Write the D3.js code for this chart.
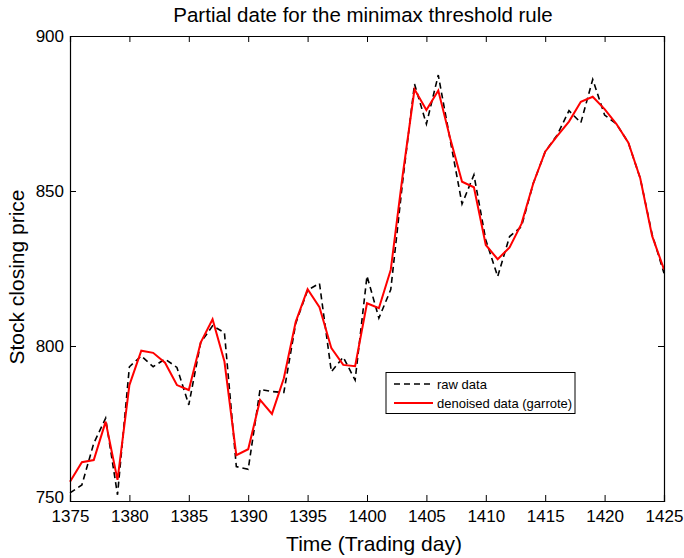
<!DOCTYPE html>
<html><head><meta charset="utf-8">
<script src="https://cdn.jsdelivr.net/npm/d3@7"></script>
<style>body{margin:0;background:#fff}svg{display:block}text{font-family:"Liberation Sans",Arial,sans-serif}</style>
</head><body><svg id="c" width="684" height="558"></svg>
<script>
const days = d3.range(1375, 1426);
const rawData = [752.6,755.2,768.6,776.7,752,793.3,796.8,793.3,795.8,793.1,781,801.1,806.5,804.3,761.1,760.2,786,785.3,785,807.3,818,820.2,791.7,796.4,789,822.6,809,818.2,853,884.5,871.6,887.4,866.5,845.8,855.2,834.2,822.4,835.3,838.5,852.5,862.7,868,875.9,872,886,874.5,871.6,865.6,854.1,836,823.5];
const denoised = [756.2,762.5,763.2,775.6,756.8,787.4,798.5,797.8,794.6,787.4,785.8,801.1,808.6,795,764.8,766.7,782.6,778.1,789.6,807.8,818.3,812.5,799.3,793.9,793.5,813.8,812.2,824.6,855,882.8,876.1,882.4,867,853,851.2,832.6,828,831.8,839.4,852.5,862.7,867.7,872.4,878.8,880.4,876.4,871.6,865.6,854.1,835.5,824.7];
const xTicks = [1375,1380,1385,1390,1395,1400,1405,1410,1415,1420,1425];
const yTicks = [750,800,850,900];
const title = "Partial date for the minimax threshold rule";
const xLabel = "Time (Trading day)";
const yLabel = "Stock closing price";
const legendLabels = ["raw data","denoised data (garrote)"];

const svg = d3.select("#c");
const L=70,R=664,T=36,B=501;
const x = d3.scaleLinear().domain([1375,1425]).range([L,R]);
const y = d3.scaleLinear().domain([750,900]).range([B,T]);

const line = d3.line().x((d,i)=>x(days[i])).y(d=>y(d));
svg.append("path").datum(rawData).attr("d",line).attr("fill","none").attr("stroke","#000").attr("stroke-width",1.6).attr("stroke-dasharray","6,4");
svg.append("path").datum(denoised).attr("d",line).attr("fill","none").attr("stroke","#ff0000").attr("stroke-width",2);

const tl=6;
const gB = svg.append("g").attr("transform",`translate(0,${B})`).call(d3.axisBottom(x).tickValues(xTicks).tickSize(-tl).tickPadding(9).tickFormat(d3.format("d")));
const gT = svg.append("g").attr("transform",`translate(0,${T})`).call(d3.axisTop(x).tickValues(xTicks).tickSize(-tl).tickFormat(""));
const gL = svg.append("g").attr("transform",`translate(${L},0)`).call(d3.axisLeft(y).tickValues(yTicks).tickSize(-tl).tickPadding(6));
const gR = svg.append("g").attr("transform",`translate(${R},0)`).call(d3.axisRight(y).tickValues(yTicks).tickSize(-tl).tickFormat(""));
[gB,gT,gL,gR].forEach(g=>{g.select(".domain").attr("stroke","#000").attr("stroke-width",1.2);g.selectAll(".tick line").attr("stroke","#000");g.selectAll("text").attr("font-size",17).attr("fill","#000").attr("font-family","Liberation Sans, Arial, sans-serif");});
gL.selectAll(".tick text").filter(d=>d===750).attr("dy","0.1em");

svg.append("text").attr("x",363).attr("y",22).attr("text-anchor","middle").attr("font-size",20.5).text(title);
svg.append("text").attr("x",374).attr("y",551).attr("text-anchor","middle").attr("font-size",21).text(xLabel);
svg.append("text").attr("transform",`translate(24,277) rotate(-90)`).attr("text-anchor","middle").attr("font-size",21).text(yLabel);

const lg = svg.append("g");
lg.append("rect").attr("x",386).attr("y",372.5).attr("width",189).attr("height",41).attr("fill","#fff").attr("stroke","#000").attr("stroke-width",1);
lg.append("line").attr("x1",394).attr("x2",433).attr("y1",384).attr("y2",384).attr("stroke","#000").attr("stroke-width",1.6).attr("stroke-dasharray","6,4");
lg.append("line").attr("x1",394).attr("x2",433).attr("y1",403).attr("y2",403).attr("stroke","#ff0000").attr("stroke-width",2);
lg.append("text").attr("x",437).attr("y",388.5).attr("font-size",13).text(legendLabels[0]);
lg.append("text").attr("x",437).attr("y",407.5).attr("font-size",13).text(legendLabels[1]);
</script></body></html>
